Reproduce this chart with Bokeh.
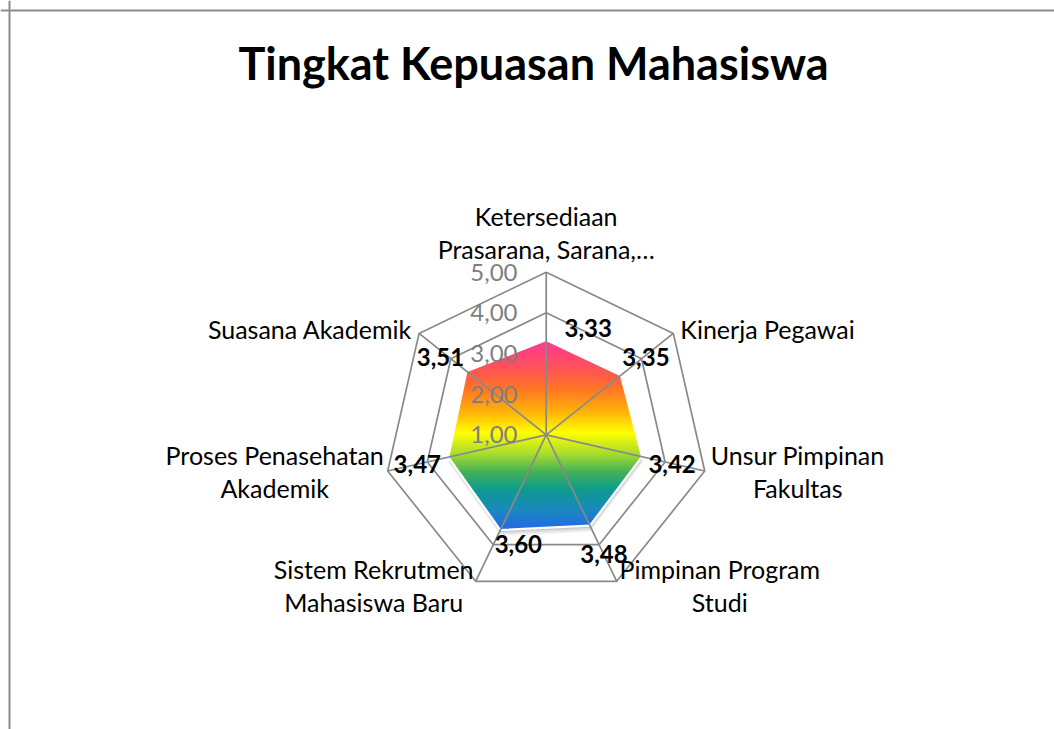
import numpy as np
from bokeh.plotting import figure
from bokeh.models import Range1d, Span
from bokeh.embed import file_html
from bokeh.resources import INLINE
from bokeh.core.properties import value

# ---------------- data ----------------
title_text = "Tingkat Kepuasan Mahasiswa"
category_lines = [
    ["Ketersediaan", "Prasarana, Sarana,…"],
    ["Kinerja Pegawai"],
    ["Unsur Pimpinan", "Fakultas"],
    ["Pimpinan Program", "Studi"],
    ["Sistem Rekrutmen", "Mahasiswa Baru"],
    ["Proses Penasehatan", "Akademik"],
    ["Suasana Akademik"],
]
scores = [3.33, 3.35, 3.42, 3.48, 3.60, 3.47, 3.51]
ticks = [1, 2, 3, 4, 5]
tick_labels = ["1,00", "2,00", "3,00", "4,00", "5,00"]
axis_min, axis_max = 1, 5

# ---------------- style / layout ----------------
FONT = "Lato"
W, H = 1054, 729
S = 40.65                 # pixels per value unit
CX, CY = 545.7, 434.3     # radar centre in pixels (from top-left)
GRID = "#898989"

# label offsets (pixels, +x right, +y down) relative to the outer vertex
cat_offsets = [(0, -56, "center"), (7, -4, "left"), (93, -16, "center"),
               (103, -12, "center"), (-102, -12, "center"), (-113, -16, "center"),
               (-7, -4, "right")]
LINE_H = 33
# data label offsets (pixels) relative to the data point
val_offsets = [(42, -12), (25, -18), (30, 7), (14, 28), (18, 14), (-31, 7), (-26, -14)]

grad_stops = [(0.0, "#FF3D8F"), (0.06, "#FF4080"), (0.18, "#FF5A4A"), (0.27, "#FF7A20"),
              (0.39, "#FFB808"), (0.49, "#FFFF00"), (0.60, "#A8DC30"), (0.70, "#40B058"),
              (0.79, "#0E9A8E"), (0.90, "#1A88C0"), (1.0, "#2468E8")]

p = figure(width=W, height=H, output_backend="svg", toolbar_location=None,
           x_range=Range1d(-CX / S, (W - CX) / S), y_range=Range1d(-(H - CY) / S, CY / S),
           x_axis_location=None, y_axis_location=None, min_border=0)
p.grid.visible = False
p.outline_line_color = None
p.background_fill_color = "white"
p.border_fill_color = "white"

# chart border (left & top, as in the cropped reference)
p.add_layout(Span(location=(9 - CX) / S, dimension="height", line_color="#8C8C8C", line_width=2))
p.add_layout(Span(location=(CY - 10) / S, dimension="width", line_color="#8C8C8C", line_width=2))

n = len(scores)
theta = 2 * np.pi * np.arange(n) / n
sin_t, cos_t = np.sin(theta), np.cos(theta)
R = axis_max - axis_min

# grid rings
ring_xs, ring_ys = [], []
for t in ticks[1:]:
    rr = t - axis_min
    ring_xs.append(list(np.append(rr * sin_t, rr * sin_t[0])))
    ring_ys.append(list(np.append(rr * cos_t, rr * cos_t[0])))
p.multi_line(ring_xs, ring_ys, line_color=GRID, line_width=1.7)

# data polygon
r = np.array(scores) - axis_min
px, py = r * sin_t, r * cos_t

# shadow
for off, a in [(2, 0.10), (4, 0.08), (6, 0.06)]:
    p.patch(px + 0.5 / S, py - off / S, fill_color="black", fill_alpha=a, line_alpha=0)

# gradient fill via horizontal strips clipped to the polygon
def hex2rgb(h):
    h = h.lstrip("#")
    return np.array([int(h[i:i + 2], 16) for i in (0, 2, 4)], float)

sf = np.array([s[0] for s in grad_stops])
sc = np.array([hex2rgb(s[1]) for s in grad_stops])

def color_at(f):
    rgb = [np.interp(f, sf, sc[:, k]) for k in range(3)]
    return "#%02x%02x%02x" % tuple(int(round(v)) for v in rgb)

ymin, ymax = py.min(), py.max()
ys = np.arange(ymax, ymin, -0.8 / S)
x0s, x1s, yy, cols = [], [], [], []
vx = np.append(px, px[0]); vy = np.append(py, py[0])
for y in ys:
    xs = []
    for i in range(n):
        ya, yb = vy[i], vy[i + 1]
        if (ya - y) * (yb - y) <= 0 and ya != yb:
            xs.append(vx[i] + (y - ya) * (vx[i + 1] - vx[i]) / (yb - ya))
    if len(xs) >= 2:
        x0s.append(min(xs)); x1s.append(max(xs)); yy.append(y)
        cols.append(color_at((ymax - y) / (ymax - ymin)))
p.segment(x0s, yy, x1s, yy, line_color=cols, line_width=1.6)

# white outline
p.patch(px, py, fill_alpha=0, line_color="white", line_width=2.2)

# spokes
p.segment(np.zeros(n), np.zeros(n), R * sin_t, R * cos_t, line_color=GRID, line_width=1.7)

# tick labels
p.text(x=[-28.7 / S] * len(ticks), y=[t - axis_min for t in ticks], text=tick_labels,
       text_align="right", text_baseline="middle", text_color="#7F7F7F",
       text_font=value(FONT), text_font_size="24px")

# data labels
vals = [f"{v:.2f}".replace(".", ",") for v in scores]
p.text(x=[px[i] + val_offsets[i][0] / S for i in range(n)],
       y=[py[i] - val_offsets[i][1] / S for i in range(n)], text=vals,
       text_align="center", text_baseline="middle", text_color="black",
       text_font=value(FONT), text_font_style="bold", text_font_size="24px")

# category labels
for i in range(n):
    dx, dy, al = cat_offsets[i]
    bx = R * sin_t[i] + dx / S
    by = R * cos_t[i] - dy / S
    lines = category_lines[i]
    p.text(x=[bx] * len(lines), y=[by - j * LINE_H / S for j in range(len(lines))], text=lines,
           text_align=al, text_baseline="middle", text_color="black",
           text_font=value(FONT), text_font_size="25px")

# title
p.text(x=[(533 - CX) / S], y=[(CY - 62) / S], text=[title_text], text_align="center",
       text_baseline="middle", text_color="black", text_font=value(FONT),
       text_font_style="bold", text_font_size="45px")

open("out.html", "w").write(file_html(p, INLINE))
